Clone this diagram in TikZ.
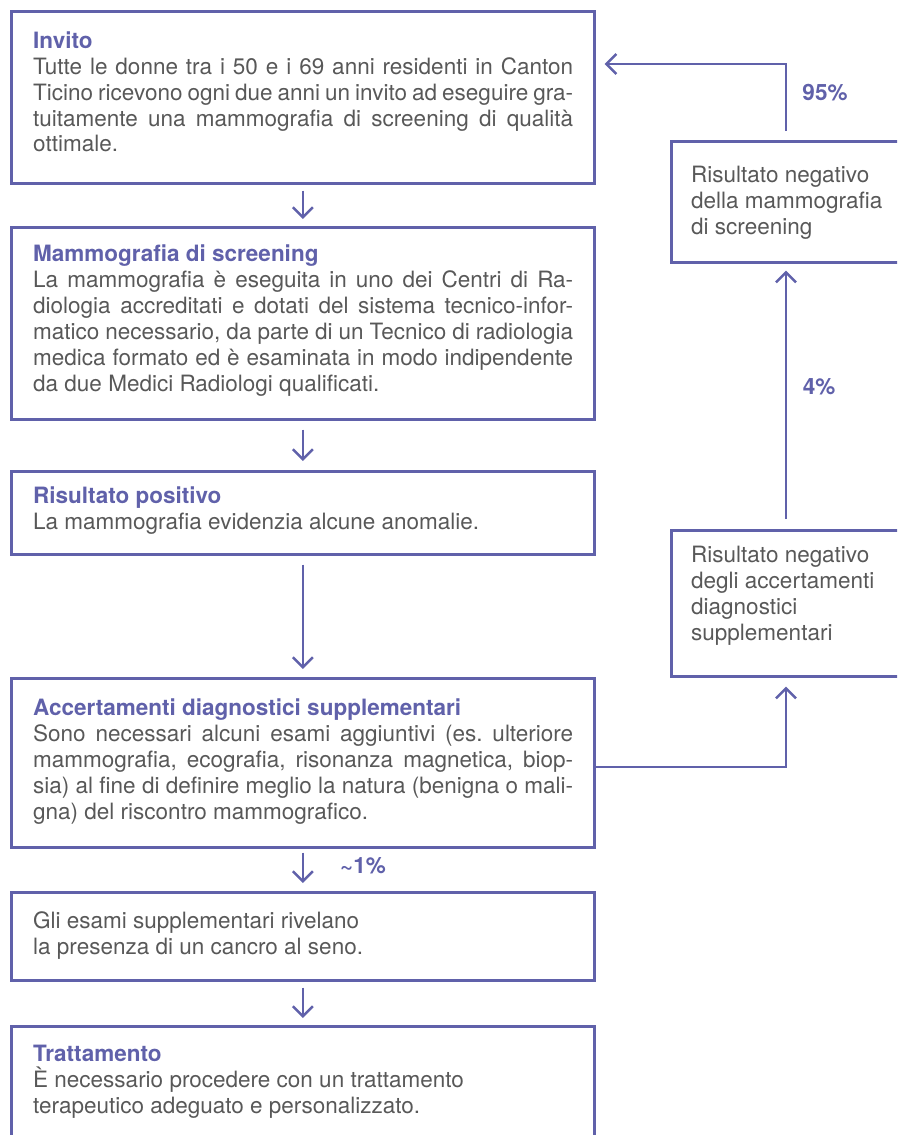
\documentclass[tikz,border=0pt]{standalone}
\usepackage{fontspec}
\setmainfont{TeX Gyre Heros}
\usetikzlibrary{arrows.meta,calc}
\definecolor{lilac}{RGB}{96,97,170}
\definecolor{txtgray}{RGB}{88,88,88}
\newcommand{\fsz}{\fontsize{22.5pt}{26pt}\selectfont}
\newcommand{\ttl}[1]{\leavevmode{\bfseries\color{lilac}#1}}
\newcommand{\J}[1]{\makebox[540pt][s]{#1}}
\frenchspacing
\tikzset{
  box/.style={draw=lilac, line width=2.6pt, rectangle, inner sep=0pt, anchor=north west},
  txt/.style={inner sep=0pt, anchor=base west, text=txtgray, font=\fsz},
  arr/.style={draw=lilac, line width=2.5pt, -{Straight Barb[length=10pt,width=20pt,line width=2.5pt]}},
  lbl/.style={inner sep=0pt, text=lilac, font=\fsz\bfseries}
}
\begin{document}
\begin{tikzpicture}[x=1pt,y=1pt]
\useasboundingbox (0,0) rectangle (897,-1135);
\clip (0,0) rectangle (897,-1135);
% boxes
\node[box, minimum width=583pt, minimum height=172pt] (b1) at (10,-10) {};
\node[box, minimum width=583pt, minimum height=192pt] (b2) at (10,-226) {};
\node[box, minimum width=583pt, minimum height=83pt] (b3) at (10,-470) {};
\node[box, minimum width=583pt, minimum height=169pt] (b4) at (10,-677) {};
\node[box, minimum width=583pt, minimum height=88pt] (b5) at (10,-891) {};
\node[box, minimum width=583pt, minimum height=200pt] (b6) at (10,-1025) {};
\node[box, minimum width=300pt, minimum height=121pt] (r1) at (670,-140) {};
\node[box, minimum width=300pt, minimum height=146pt] (r2) at (670,-529) {};
% texts
\node[txt] (t1) at (33,-48) {\parbox[t]{540pt}{\raggedright
\ttl{Invito}\\
\J{Tutte le donne tra i 50 e i 69 anni residenti in Canton}\\
\J{Ticino ricevono ogni due anni un invito ad eseguire gra-}\\
\J{tuitamente una mammografia di screening di qualità}\\
ottimale.}};
\node[txt] (t2) at (33,-261) {\parbox[t]{540pt}{\raggedright
\ttl{Mammografia di screening}\\
\J{La mammografia è eseguita in uno dei Centri di Ra-}\\
\J{diologia accreditati e dotati del sistema tecnico-infor-}\\
\J{matico necessario, da parte di un Tecnico di radiologia}\\
\J{medica formato ed è esaminata in modo indipendente}\\
da due Medici Radiologi qualificati.}};
\node[txt] (t3) at (33,-503) {\parbox[t]{540pt}{\raggedright
\ttl{Risultato positivo}\\
La mammografia evidenzia alcune anomalie.}};
\node[txt] (t4) at (33,-715) {\parbox[t]{540pt}{\raggedright
\ttl{Accertamenti diagnostici supplementari}\\
\J{Sono necessari alcuni esami aggiuntivi (es. ulteriore}\\
\J{mammografia, ecografia, risonanza magnetica, biop-}\\
\J{sia) al fine di definire meglio la natura (benigna o mali-}\\
gna) del riscontro mammografico.}};
\node[txt] (t5) at (33,-928) {\parbox[t]{540pt}{\raggedright
Gli esami supplementari rivelano\\
la presenza di un cancro al seno.}};
\node[txt] (t6) at (33,-1061) {\parbox[t]{540pt}{\raggedright
\ttl{Trattamento}\\
È necessario procedere con un trattamento\\
terapeutico adeguato e personalizzato.}};
\node[txt] (tr1) at (691,-182) {\parbox[t]{200pt}{\raggedright
Risultato negativo\\
della mammografia\\
di screening}};
\node[txt] (tr2) at (691,-562) {\parbox[t]{200pt}{\raggedright
Risultato negativo\\
degli accertamenti\\
diagnostici\\
supplementari}};
% labels
\node[lbl] (l95) at (825,-93) {95\%};
\node[lbl] (l4) at (819,-387) {4\%};
\node[lbl] (l1) at (363,-866) {\textasciitilde1\%};
% helper coordinates
\coordinate (colx) at (786,0);
\coordinate (topc) at (786,-64);
\coordinate (sidec) at (593,-767);
% vertical flow
\draw[arr, shorten <=6pt, shorten >=7pt] (b1.south) -- (b2.north);
\draw[arr, shorten <=9pt, shorten >=9pt] (b2.south) -- (b3.north);
\draw[arr, shorten <=9pt, shorten >=8pt] (b3.south) -- (b4.north);
\draw[arr, shorten <=4pt, shorten >=8pt] (b4.south) -- (b5.north);
\draw[arr, shorten <=6pt, shorten >=7pt] (b5.south) -- (b6.north);
% right loop
\draw[arr, shorten >=9pt] (sidec) -| (r2.south -| colx);
\draw[arr, shorten <=10pt, shorten >=7pt] (r2.north -| colx) -- (r1.south -| colx);
\draw[arr, shorten <=9pt, shorten >=9pt] (r1.north -| colx) -- (topc) -- (b1.east |- topc);
\end{tikzpicture}
\end{document}
